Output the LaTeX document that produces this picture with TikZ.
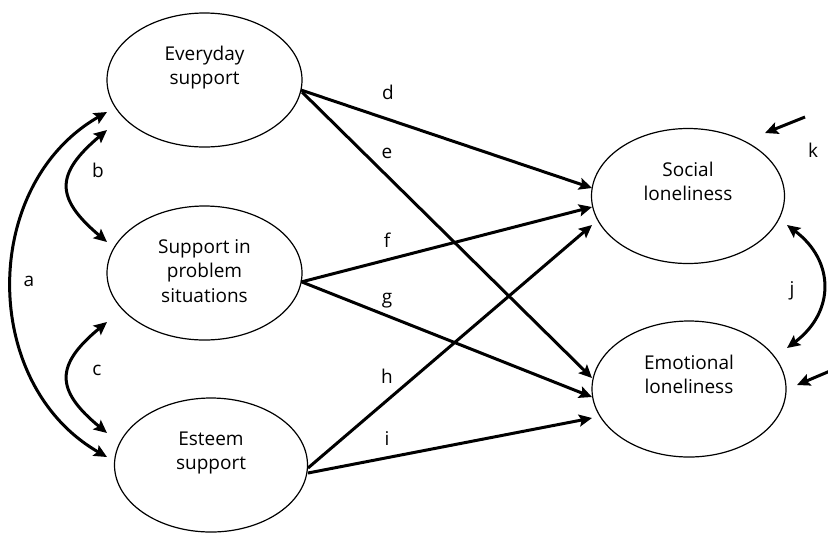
\documentclass[tikz,border=0pt]{standalone}
\usepackage{fontspec}
\setmainfont{Open Sans}
\usetikzlibrary{shapes.geometric,arrows.meta,calc}

\tikzset{
  latent/.style={draw, ellipse, line width=0.6pt, inner sep=0pt,
    minimum width=97pt, minimum height=67pt, align=center,
    font=\fontsize{9.5pt}{12.25pt}\selectfont},
  path/.style={line width=1.5pt,
    -{Stealth[length=6.5pt,width=6pt,inset=1.2pt]}},
  covar/.style={line width=1.5pt,
    {Stealth[length=6.5pt,width=6pt,inset=1.2pt]}-{Stealth[length=6.5pt,width=6pt,inset=1.2pt]}},
  coef/.style={anchor=base, inner sep=0pt,
    font=\fontsize{9.5pt}{12.25pt}\selectfont}
}

\begin{document}
\begin{tikzpicture}[x=0.5pt, y=-0.5pt]
  \useasboundingbox (0,0) rectangle (828,532);

  % predictors
  \node[latent, minimum width=97.5pt] (ev) at (204.5,80)
    {\strut Everyday\\\strut support\\\strut};
  \node[latent, minimum width=97.5pt] (pr) at (204.5,273)
    {\strut Support in\\\strut problem\\\strut situations};
  \node[latent, minimum width=96.5pt] (es) at (211,465)
    {\strut Esteem\\\strut support\\\strut};

  % outcomes
  \node[latent, minimum width=96.5pt, minimum height=67.5pt] (soc) at (688,196)
    {\strut Social\\\strut loneliness\\\strut};
  \node[latent, minimum width=97pt, minimum height=68pt] (emo) at (689,389)
    {\strut Emotional\\\strut loneliness\\\strut};

  % regression paths
  \draw[path] ($(ev)+(96.5,10)$) -- ($(soc)+(-96,-8)$);
  \draw[path] ($(ev)+(97.5,12)$) -- ($(emo)+(-97,-11)$);
  \draw[path] ($(pr)+(96.5,9)$) -- ($(soc)+(-96,11)$);
  \draw[path] ($(pr)+(97.5,9)$) -- ($(emo)+(-97,8)$);
  \draw[path] ($(es)+(97,3)$) -- ($(soc)+(-96,29)$);
  \draw[path] ($(es)+(97,8)$) -- ($(emo)+(-97,29)$);

  % covariances among predictors
  \draw[covar] ($(ev)+(-97.5,32)$) .. controls (-20,185) and (-20,384) .. ($(es)+(-104,-8)$);
  \draw[covar] ($(ev)+(-97.5,50)$) .. controls (55,174) and (55,198) .. ($(pr)+(-97.5,-31)$);
  \draw[covar] ($(pr)+(-97.5,49)$) .. controls (55,365) and (55,390) .. ($(es)+(-104,-32)$);

  % residual covariance and disturbances
  \draw[covar] ($(soc)+(99,29)$) .. controls (835,261) and (835,312) .. ($(emo)+(98,-41)$);
  \coordinate (ksrc) at (805,117);
  \coordinate (esrc) at (830,371);
  \draw[path] (ksrc) -- ($(soc)+(77,-63)$);
  \draw[path] (esrc) -- ($(emo)+(108,-4)$);

  % path labels
  \node[coef] (la) at (29,286) {a};
  \node[coef] (lb) at (98,177) {b};
  \node[coef] (lc) at (97,375) {c};
  \node[coef] (ld) at (388,99) {d};
  \node[coef] (le) at (387,158) {e};
  \node[coef] (lf) at (387,247) {f};
  \node[coef] (lg) at (387,303) {g};
  \node[coef] (lh) at (387,383) {h};
  \node[coef] (li) at (387,445) {i};
  \node[coef] (lj) at (792,295) {j};
  \node[coef] (lk) at (813,157) {k};
\end{tikzpicture}
\end{document}
